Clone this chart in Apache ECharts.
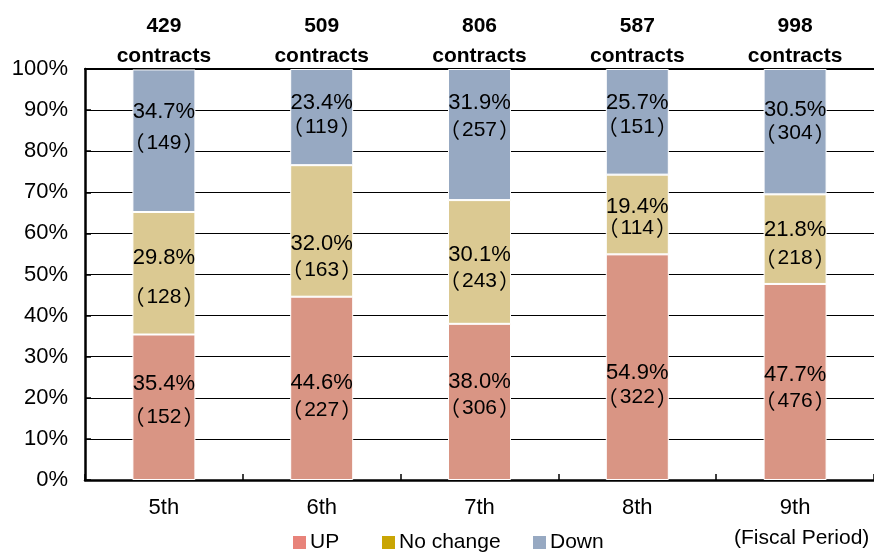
<!DOCTYPE html>
<html>
<head>
<meta charset="utf-8">
<script src="https://cdn.jsdelivr.net/npm/echarts@6/dist/echarts.min.js"></script>
<style>
  html, body { margin: 0; padding: 0; background: #fff; }
  #chart { width: 874px; height: 552px; }
</style>
</head>
<body>
<div id="chart"></div>
<script>
// Fiscal periods and contract outcomes (share of contracts, %, and contract counts)
const periods = ['5th', '6th', '7th', '8th', '9th'];
const upPct = [35.4, 44.6, 38.0, 54.9, 47.7];
const flatPct = [29.8, 32.0, 30.1, 19.4, 21.8];
const downPct = [34.7, 23.4, 31.9, 25.7, 30.5];
const upCount = [152, 227, 306, 322, 476];
const flatCount = [128, 163, 243, 114, 218];
const downCount = [149, 119, 257, 151, 304];
const totals = [429, 509, 806, 587, 998];
const yTicks = [0, 10, 20, 30, 40, 50, 60, 70, 80, 90, 100];

// Label placement inside each segment: vertical nudge and line spacing
const upNudge = [-7, 8, -7, 18, 6];
const flatNudge = [4, 26, 6, 3, 5];
const downNudge = [-13, -2, -18, -7, -10];
const upGap = [33, 27, 26, 25, 27];
const flatGap = [39, 26, 27, 22, 29];
const downGap = [31, 24, 27, 24, 24];

const FONT = '"Liberation Sans", Arial, "Noto Sans CJK JP", sans-serif';
const CJK = '"Noto Sans CJK JP", "Liberation Sans", sans-serif';

function seriesData(pct, count, nudge, gap) {
  return pct.map((v, i) => ({
    value: v,
    label: {
      offset: [0, nudge[i]],
      formatter: '{p|' + v.toFixed(1) + '%}\n{l|（}{c|' + count[i] + '}{r|）}',
      rich: {
        p: { fontSize: 22, lineHeight: gap[i], color: '#000', fontFamily: FONT },
        c: { fontSize: 21, lineHeight: gap[i], color: '#000', fontFamily: FONT },
        l: { fontSize: 21, lineHeight: gap[i], color: '#000', fontFamily: CJK, padding: [0, 2, 0, 0] },
        r: { fontSize: 21, lineHeight: gap[i], color: '#000', fontFamily: CJK, padding: [0, 0, 0, 2] }
      }
    }
  }));
}

function makeSeries(name, color, pct, count, nudge, gap) {
  return {
    name: name,
    type: 'bar',
    stack: 'share',
    barWidth: 63,
    itemStyle: { color: color, borderColor: '#ffffff', borderWidth: 1 },
    label: {
      show: true,
      position: 'inside',
      color: '#000',
      fontFamily: FONT,
      fontSize: 22
    },
    emphasis: { disabled: true },
    data: seriesData(pct, count, nudge, gap)
  };
}

function legendItem(name, color, left) {
  return {
    left: left,
    top: 527,
    icon: 'rect',
    itemWidth: 15,
    itemHeight: 15,
    itemGap: 4,
    selectedMode: false,
    textStyle: { color: '#000', fontSize: 21, fontFamily: FONT, padding: [0, 0, 0, -2] },
    data: [{ name: name, itemStyle: { color: color } }]
  };
}

const chart = echarts.init(document.getElementById('chart'), null, { renderer: 'canvas' });

chart.setOption({
  animation: false,
  backgroundColor: '#fff',
  textStyle: { fontFamily: FONT },
  grid: { left: 85, right: -4, top: 69, bottom: 72 },
  legend: [
    legendItem('UP', '#E8837A', 286),
    legendItem('No change', '#C9A504', 375),
    legendItem('Down', '#97A9C2', 526)
  ],
  graphic: [{
    type: 'text',
    left: 734,
    top: 528,
    style: { text: '(Fiscal Period)', fontSize: 21, fontFamily: FONT, fill: '#000' }
  }],
  xAxis: [{
    type: 'category',
    data: periods,
    position: 'bottom',
    axisLine: { show: true, lineStyle: { color: '#000', width: 2.5 } },
    axisTick: { show: true, inside: true, length: 6, lineStyle: { color: '#000', width: 1.5 } },
    axisLabel: { color: '#000', fontSize: 22, fontFamily: FONT, margin: 17 }
  }, {
    type: 'category',
    data: totals.map(String),
    position: 'top',
    axisLine: { show: true, lineStyle: { color: '#000', width: 2 } },
    axisTick: { show: false },
    axisLabel: {
      color: '#000',
      fontSize: 21,
      fontWeight: 'bold',
      fontFamily: FONT,
      lineHeight: 30,
      margin: -2,
      formatter: v => v + '\ncontracts'
    }
  }],
  yAxis: {
    type: 'value',
    min: yTicks[0],
    max: yTicks[yTicks.length - 1],
    interval: yTicks[1] - yTicks[0],
    axisLine: { show: true, lineStyle: { color: '#000', width: 2.5 } },
    axisTick: { show: true, inside: true, length: 6, lineStyle: { color: '#000', width: 1.5 } },
    axisLabel: { color: '#000', fontSize: 22, fontFamily: FONT, margin: 17, formatter: '{value}%' },
    splitLine: { show: true, lineStyle: { color: '#000', width: 1 } }
  },
  series: [
    makeSeries('UP', '#D99584', upPct, upCount, upNudge, upGap),
    makeSeries('No change', '#DBC992', flatPct, flatCount, flatNudge, flatGap),
    makeSeries('Down', '#97A9C2', downPct, downCount, downNudge, downGap)
  ]
});
</script>
</body>
</html>
